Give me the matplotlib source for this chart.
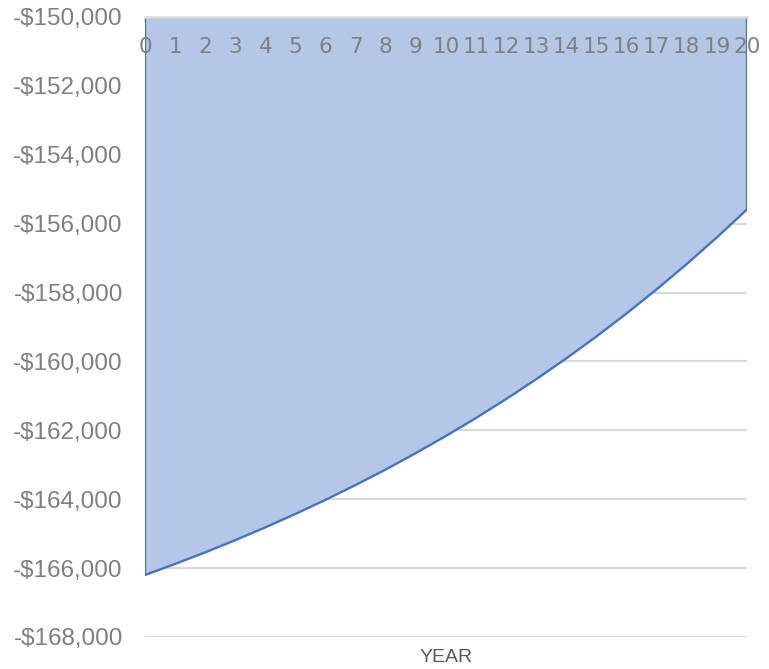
import matplotlib
matplotlib.use("Agg")
import matplotlib.pyplot as plt
import matplotlib.transforms as mtransforms
from matplotlib.ticker import FuncFormatter

# values
years = list(range(0, 21))
balance = [-166200, -165879, -165542, -165188, -164816, -164426, -164017,
           -163586, -163135, -162660, -162162, -161640, -161091, -160514,
           -159909, -159273, -158606, -157905, -157170, -156397, -155586]
y_ticks = list(range(-168000, -149999, 2000))
y_top = -150000
y_bottom = -168000

fill_col = "#B4C7E7"
line_col = "#4472C4"
grid_col = "#D9D9D9"
text_col = "#7F7F7F"

fig = plt.figure(figsize=(7.69, 6.69), dpi=100)
W, H = 769, 669
ax = fig.add_axes([145 / W, 1 - 637 / H, (747 - 145) / W, (637 - 17) / H])

# area between the curve and the axis line at the top
ax.fill_between(years, balance, y_top, facecolor=fill_col, edgecolor="none", zorder=2)
ax.plot([years[0]] + years + [years[-1]], [y_top] + balance + [y_top],
        color=line_col, lw=1.7, zorder=3, solid_joinstyle="miter")

ax.set_xlim(years[0], years[-1])
ax.set_ylim(y_bottom, y_top)

# value axis
ax.set_yticks(y_ticks)
ax.yaxis.set_major_formatter(FuncFormatter(lambda v, p: "-${:,.0f}".format(abs(v))))
ax.tick_params(axis="y", length=0, pad=16, labelsize=17.5, labelcolor=text_col)
for lbl in ax.get_yticklabels():
    lbl.set_fontfamily("Liberation Sans")
ax.grid(axis="y", color=grid_col, lw=1.5, zorder=1)
ax.set_axisbelow(True)

# category axis sits at the top, labels drawn just under it
ax.xaxis.tick_top()
ax.set_xticks(years)
ax.tick_params(axis="x", direction="in", length=4.5, width=1.2, color=grid_col,
               labeltop=False, labelbottom=False)
trans = mtransforms.blended_transform_factory(ax.transData, ax.transAxes)
for yr in years:
    ax.text(yr, 1 - 30 / 620, str(yr), transform=trans, ha="center", va="center",
            fontsize=15.5, color=text_col, family="DejaVu Sans", zorder=4)

for side in ["left", "right", "bottom"]:
    ax.spines[side].set_visible(False)
ax.spines["top"].set_color(grid_col)
ax.spines["top"].set_linewidth(1.8)
ax.spines["top"].set_zorder(5)

fig.text(446 / W, 1 - 657 / H, "YEAR", ha="center", va="center",
         fontsize=14, color="#595959", family="Liberation Sans")

fig.savefig("out.png", dpi=100)
